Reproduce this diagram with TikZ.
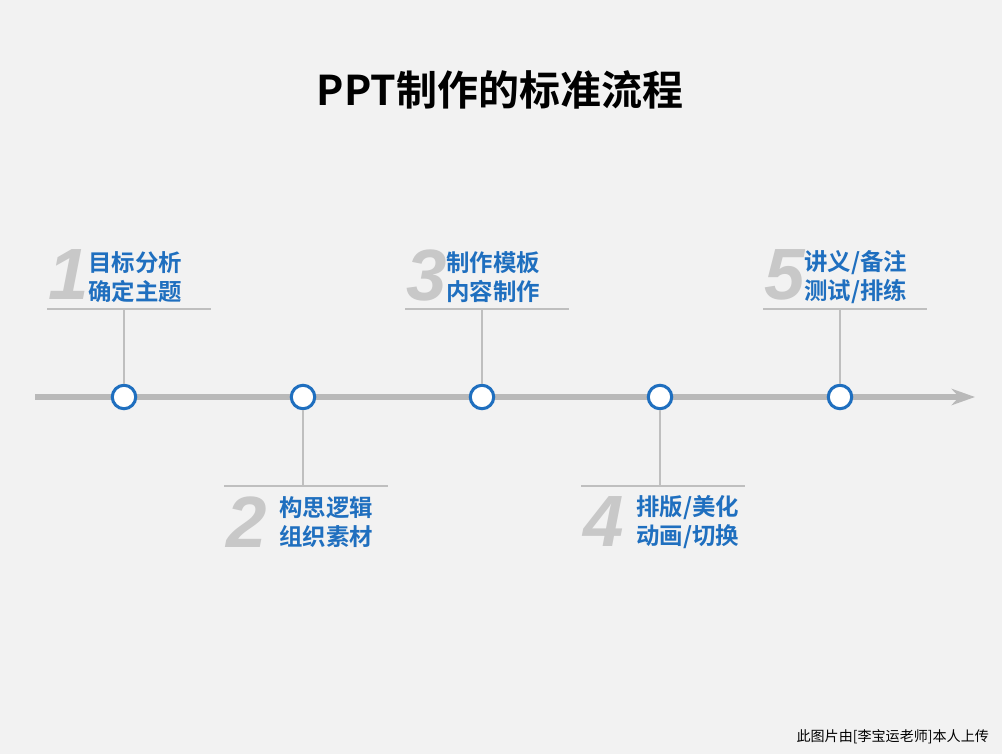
\documentclass[tikz,border=0pt]{standalone}
\usepackage{fontspec}
\setmainfont{Liberation Sans}
\newfontfamily\cjk{Noto Sans CJK SC}[BoldFont={* Bold}]
\definecolor{bgray}{HTML}{F2F2F2}
\definecolor{lgray}{HTML}{BFBFBF}
\definecolor{ngray}{HTML}{C8C8C8}
\definecolor{tblue}{HTML}{1F6FBF}
\usetikzlibrary{arrows.meta}
\tikzset{
  stepdot/.style={circle, draw=tblue, fill=white, line width=2.6pt, minimum size=20pt, inner sep=0pt},
  stepnum/.style={font=\bfseries\itshape\fontsize{62}{62}\selectfont, text=ngray, anchor=center},
  steptext/.style={font=\cjk\bfseries\fontsize{20}{25}\selectfont, text=tblue, align=left, anchor=west},
  guide/.style={lgray, line width=1.7pt}
}
\begin{document}
\begin{tikzpicture}[x=0.03cm,y=-0.03cm]
  % 背景
  \fill[bgray] (0,0) rectangle (1002,754);
  \useasboundingbox (0,0) rectangle (1002,754);

  % 标题
  \node[font=\cjk\bfseries\fontsize{35}{35}\selectfont] (title) at (500,90) {PPT制作的标准流程};

  % 时间轴
  \coordinate (axL) at (35,397);
  \coordinate (axR) at (975,397);
  \draw[line width=5pt, lgray!90!gray, -{Stealth[length=20pt,width=14pt]}] (axL) -- (axR);

  % 上方的步骤: x / 编号 / 文字
  \foreach \x/\n/\txt [count=\i] in {124/1/{目标分析\\确定主题}, 482/3/{制作模板\\内容制作}, 840/5/{讲义/备注\\测试/排练}} {
    \node[stepdot] (dot\n) at (\x,397) {};
    \coordinate (top\n) at (\x,309);
    \coordinate (la\n) at (\x-77,309);
    \coordinate (lb\n) at (\x+87,309);
    \draw[guide] (dot\n) -- (top\n);
    \draw[guide] (la\n) -- (lb\n);
    \node[stepnum] (num\n) at (\x-55,275) {\n};
    \node[steptext] (txt\n) at (\x-40,277) {\txt};
  }

  % 下方的步骤
  \foreach \x/\n/\txt in {303/2/{构思逻辑\\组织素材}, 660/4/{排版/美化\\动画/切换}} {
    \node[stepdot] (dot\n) at (\x,397) {};
    \coordinate (bot\n) at (\x,486);
    \coordinate (la\n) at (\x-79,486);
    \coordinate (lb\n) at (\x+85,486);
    \draw[guide] (dot\n) -- (bot\n);
    \draw[guide] (la\n) -- (lb\n);
    \node[stepnum] (num\n) at (\x-56,522) {\n};
    \node[steptext] (txt\n) at (\x-28,522) {\txt};
  }

  % 页脚
  \node[font=\cjk\fontsize{12}{12}\selectfont, anchor=east] (foot) at (993,737) {此图片由[李宝运老师]本人上传};
\end{tikzpicture}
\end{document}
